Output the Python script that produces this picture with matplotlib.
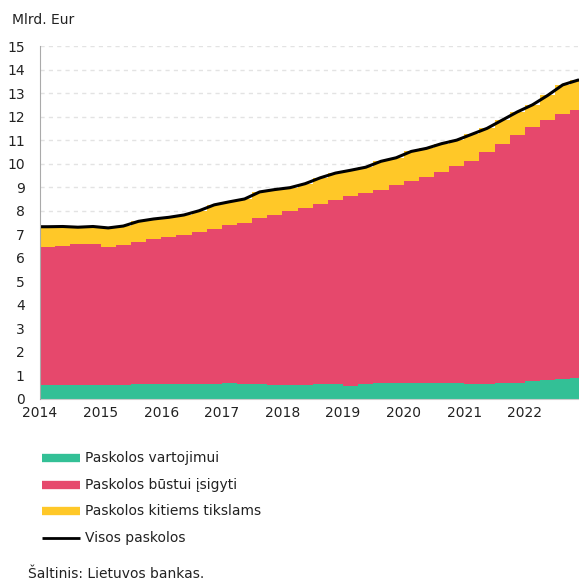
import matplotlib
matplotlib.use("Agg")
import matplotlib.pyplot as plt
from matplotlib.lines import Line2D
import numpy as np

# Quarterly data, 2014Q1 .. 2022Q4 (mlrd. EUR)
quarters = [f"{y}Q{q}" for y in range(2014, 2023) for q in range(1, 5)]
consumer = [0.58, 0.58, 0.58, 0.58,
            0.58, 0.58, 0.62, 0.65,
            0.65, 0.65, 0.65, 0.65,
            0.70, 0.65, 0.65, 0.60,
            0.60, 0.58, 0.62, 0.62,
            0.57, 0.62, 0.70, 0.70,
            0.70, 0.70, 0.70, 0.70,
            0.62, 0.65, 0.70, 0.70,
            0.77, 0.80, 0.84, 0.88]
housing = [5.87, 5.94, 6.00, 6.01,
           5.89, 5.97, 6.06, 6.13,
           6.23, 6.33, 6.45, 6.57,
           6.68, 6.85, 7.03, 7.22,
           7.38, 7.54, 7.68, 7.83,
           8.05, 8.13, 8.20, 8.40,
           8.58, 8.75, 8.95, 9.20,
           9.48, 9.85, 10.15, 10.50,
           10.78, 11.05, 11.28, 11.39]
total = [7.32, 7.33, 7.30, 7.33,
         7.27, 7.35, 7.55, 7.65,
         7.72, 7.82, 8.00, 8.25,
         8.38, 8.50, 8.80, 8.90,
         8.98, 9.15, 9.40, 9.60,
         9.72, 9.85, 10.10, 10.25,
         10.52, 10.65, 10.85, 11.00,
         11.25, 11.50, 11.85, 12.20,
         12.50, 12.90, 13.35, 13.55]
year_ticks = list(range(2014, 2023))
labels = ["Paskolos vartojimui", "Paskolos būstui įsigyti",
          "Paskolos kitiems tikslams", "Visos paskolos"]

colors = ["#33c096", "#e6486c", "#ffc828", "#000000"]

W, H = 579, 580
fig = plt.figure(figsize=(W / 100, H / 100), dpi=100)
fig.patch.set_facecolor("white")
ax = fig.add_axes([40 / W, 1 - 399 / H, (W - 40) / W, (399 - 46) / H])

starts = np.array([int(s[:4]) + (int(s[-1]) - 1) / 4 for s in quarters])
edges = np.append(starts, starts[-1] + 0.25)
mids = starts + 0.125
c = np.array(consumer)
h = np.array(housing)
t = np.array(total)
o = t - h - c

ax.stairs(c, edges, baseline=0, fill=True, color=colors[0], lw=0, zorder=2)
ax.stairs(c + h, edges, baseline=c, fill=True, color=colors[1], lw=0, zorder=2)
ax.stairs(t, edges, baseline=c + h, fill=True, color=colors[2], lw=0, zorder=2)
lx = np.concatenate([[edges[0]], mids, [edges[-1]]])
ly = np.concatenate([[t[0]], t, [t[-1]]])
ax.plot(lx, ly, color=colors[3], lw=2.2, zorder=3, solid_capstyle="butt")

ax.set_xlim(2014, 2014 + (W - 41) / 60.5)
ax.set_ylim(0, 15)
ax.set_yticks(range(0, 16))
ax.set_xticks(year_ticks)
ax.set_xticklabels([str(y) for y in year_ticks])
ax.tick_params(axis="both", length=0, labelsize=10, colors="#222222")
ax.tick_params(axis="y", pad=11)
ax.tick_params(axis="x", pad=5)
for v in range(1, 16):
    ax.axhline(v, color="#e3e3e3", lw=1, ls=(0, (3, 3)), zorder=1)
for s in ["top", "right"]:
    ax.spines[s].set_visible(False)
ax.spines["left"].set_color("#aaaaaa")
ax.spines["bottom"].set_color("#cccccc")
ax.spines["left"].set_zorder(4)

fig.text(12 / W, 1 - 20 / H, "Mlrd. Eur", fontsize=10, color="#222222",
         va="center", ha="left")

# legend
rows = [458, 485, 511, 538]
for i, (lab, col) in enumerate(zip(labels, colors)):
    yy = 1 - rows[i] / H
    lw = 6 if i < 3 else 2
    fig.add_artist(Line2D([42 / W, 80 / W], [yy, yy], color=col, lw=lw,
                          transform=fig.transFigure, solid_capstyle="butt"))
    fig.text(85 / W, yy, lab, fontsize=10, color="#222222", va="center", ha="left")

fig.text(28 / W, 1 - 574 / H, "Šaltinis: Lietuvos bankas.", fontsize=10,
         color="#222222", va="center", ha="left")

fig.savefig("out.png", dpi=100)
